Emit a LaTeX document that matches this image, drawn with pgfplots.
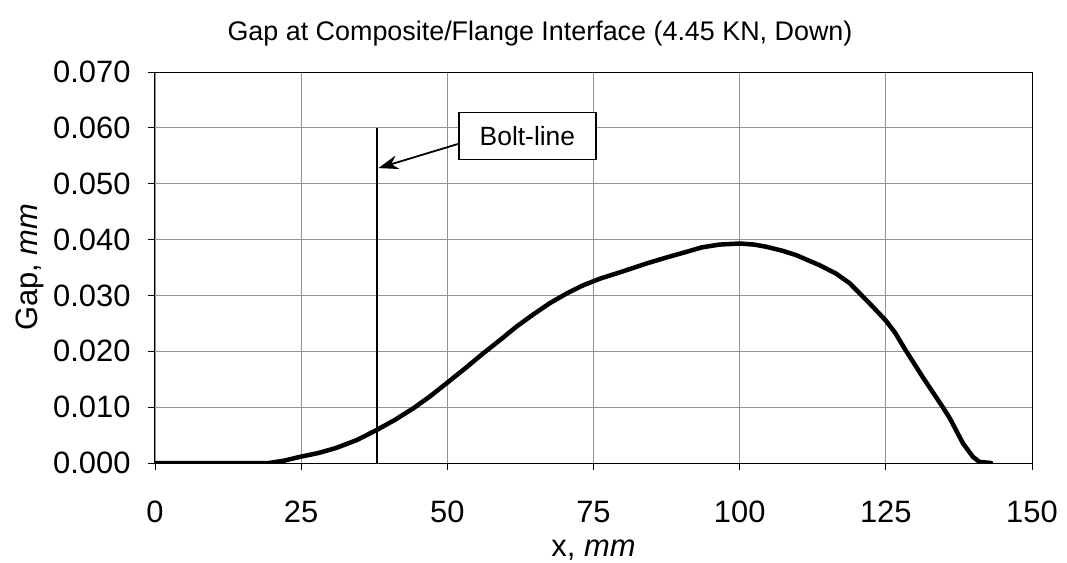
\documentclass[border=0pt]{standalone}
\usepackage{fontspec}
\setmainfont{Liberation Sans}
\usepackage{pgfplots}
\pgfplotsset{compat=1.18}
\usetikzlibrary{arrows.meta}

\begin{document}
\begin{tikzpicture}
\begin{axis}[
  scale only axis,
  width=877bp, height=391bp,
  xmin=0, xmax=150, ymin=0, ymax=0.07,
  xtick={0,25,...,150},
  ytick={0,0.01,...,0.07},
  scaled y ticks=false,
  yticklabel style={/pgf/number format/fixed, /pgf/number format/fixed zerofill,
    /pgf/number format/precision=3},
  /pgf/number format/assume math mode=true,
  tick label style={font=\fontsize{31}{35}\selectfont},
  xticklabel style={anchor=center, yshift=-42bp},
  yticklabel style={anchor=east, xshift=-14bp},
  tick align=outside, xtick pos=left, ytick pos=left,
  major tick length=7bp,
  tick style={black, line width=0.8bp},
  grid=major,
  major grid style={gray!85, line width=0.8bp},
  axis line style={black, line width=1bp},
  title={Gap at Composite/Flange Interface (4.45 KN, Down)},
  title style={at={(axis description cs:0.439,1)}, anchor=center, yshift=32bp,
    font=\fontsize{27}{32}\selectfont},
  xlabel={x, \textit{mm}},
  ylabel={Gap, \textit{mm}},
  label style={font=\fontsize{31}{36}\selectfont},
  xlabel style={at={(axis description cs:0.5,-0.2225)}, anchor=center},
  ylabel style={at={(axis description cs:-0.1425,0.5)}, anchor=center, rotate=0},
]
\addplot[black, line width=2.2bp] coordinates {(38,0) (38,0.060)};

\addplot[black, line width=4.5bp, line join=round, line cap=round] coordinates {
(0,0) (10,0) (19.5,0) (22,0.0004) (24.8,0.0011) (28,0.0018) (31,0.0027)
(34.5,0.0041) (37.9,0.0059) (41,0.0077) (44.2,0.0098) (47,0.0119)
(49.9,0.0143) (53,0.0169) (56.1,0.0196) (59,0.0220) (61.8,0.0244)
(64.7,0.0266) (67.5,0.0286) (70.5,0.0304) (73.2,0.0318) (76.1,0.0330)
(80,0.0343) (84,0.0357) (87.5,0.0368) (90.9,0.0378) (93.5,0.0386) (96.5,0.0391)
(100,0.0393) (102.5,0.0391) (104.6,0.0387) (107.3,0.0380) (109.7,0.0372)
(113.7,0.0354) (116.5,0.0339) (118.8,0.0322) (120.5,0.0304) (122.2,0.0286)
(125,0.0255) (126.6,0.0233) (128.2,0.0205) (131.3,0.0154) (134.8,0.0099)
(136,0.0079) (137,0.0059) (138.2,0.0035) (139.9,0.0011) (141,0.0002) (143,0)
};

\draw[-{Stealth[length=20bp,width=14bp]}, line width=1.8bp]
  (axis cs:52.1,0.0572) -- (axis cs:38.2,0.0528);
\node[draw, fill=white, line width=1.4bp, minimum width=137bp, minimum height=47bp,
  inner sep=0pt, font=\fontsize{26.5}{30}\selectfont]
  at (axis cs:63.7,0.0585) {Bolt-line};
\end{axis}
\pgfresetboundingbox
\path[use as bounding box] (-155bp,-100bp) rectangle (912bp,463bp);
\end{tikzpicture}
\end{document}
